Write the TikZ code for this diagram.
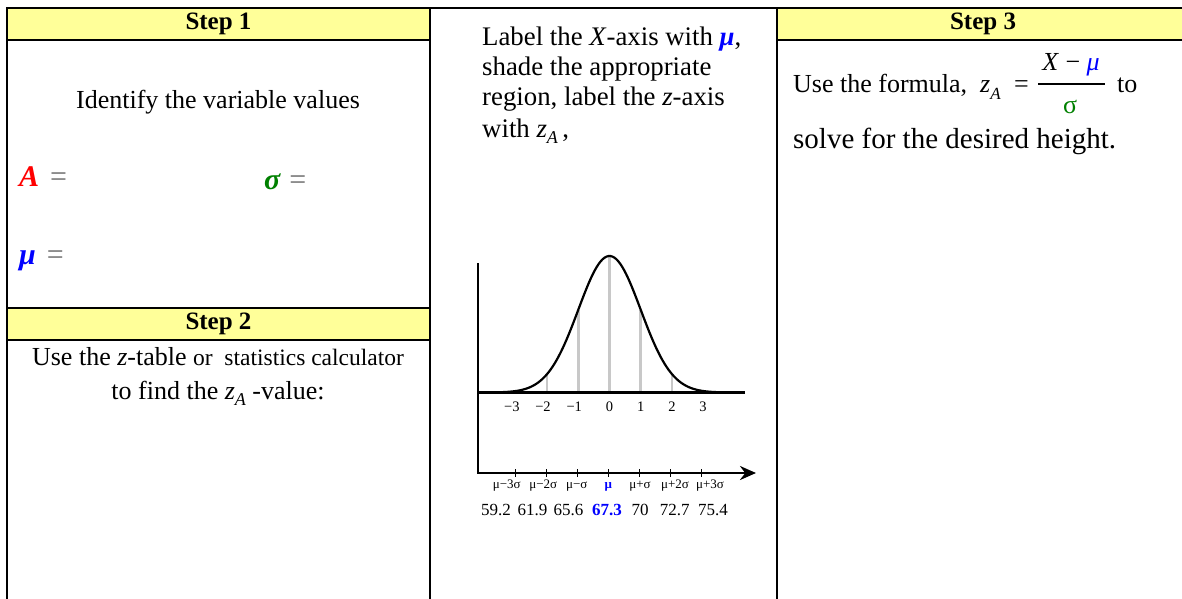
\documentclass[tikz,border=0pt]{standalone}
\usepackage{fontspec}
\setmainfont{Liberation Serif}
\usetikzlibrary{arrows.meta}
\definecolor{hdryellow}{HTML}{FFFF99}
\definecolor{eqgray}{HTML}{6E6E6E}
\definecolor{sgreen}{HTML}{008000}
\definecolor{curvegray}{HTML}{C8C8C8}
\newcommand{\myfs}[1]{\fontsize{#1}{#1}\selectfont}
\begin{document}
\begin{tikzpicture}[x=1pt,y=-1pt,
  frame/.style={line width=2pt},
  hdr/.style={draw, line width=2pt, fill=hdryellow, minimum height=32pt, inner sep=0pt, font=\myfs{25}\bfseries},
  txt/.style={inner sep=0pt, font=\myfs{26}},
  var/.style={inner sep=0pt, font=\myfs{30}},
  zlab/.style={inner sep=0pt, anchor=base, font=\myfs{14.5}},
  mlab/.style={inner sep=0pt, anchor=base, font=\myfs{13}},
  nlab/.style={inner sep=0pt, anchor=base, font=\myfs{17}},
  axis/.style={line width=2.5pt},
  tick/.style={line width=1pt}]
\clip (0,0) rectangle (1182,598);
% table frame
\draw[frame] (7,8) -- (7,602);
\draw[frame] (430,8) -- (430,602);
\draw[frame] (777,8) -- (777,602);
\draw[frame] (7,8) -- (1192,8);
% headers
\node[hdr, minimum width=423pt] (h1) at (218.5,24) {Step 1};
\node[hdr, minimum width=423pt] (h2) at (218.5,324) {Step 2};
\node[hdr, minimum width=412pt] (h3) at (983,24) {Step 3};
% step 1
\node[txt, anchor=base] (s1t) at (218,108) {Identify the variable values};
\node[var, anchor=base west] (varA) at (19,186) {{\color{red}\bfseries\itshape A}\hspace{11pt}{\color{eqgray}=}};
\node[var, anchor=base west] (varS) at (264,189) {{\color{sgreen}\bfseries\itshape σ}\hspace{9pt}{\color{eqgray}=}};
\node[var, anchor=base west] (varM) at (19,264) {{\color{blue}\bfseries\itshape μ}\hspace{11pt}{\color{eqgray}=}};
% step 2
\node[txt, anchor=base] (s2a) at (218,365) {Use the \textit{z}-table {\myfs{23.5}or\ \ statistics calculator}};
\node[txt, anchor=base] (s2b) at (218,399) {to find the \textit{z}\raisebox{-6pt}{\myfs{18}\itshape A} -value:};
% column 2 text
\node[txt, anchor=base west, font=\myfs{26.8}] (c2a) at (482,45) {Label the \textit{X}-axis with {\color{blue}\bfseries\itshape μ},};
\node[txt, anchor=base west, font=\myfs{26.8}] (c2b) at (482,75) {shade the appropriate};
\node[txt, anchor=base west, font=\myfs{26.8}] (c2c) at (482,105) {region, label the \textit{z}-axis};
\node[txt, anchor=base west, font=\myfs{26.8}] (c2d) at (482,137) {with \textit{z}\raisebox{-6pt}{\myfs{18}\itshape A}\,,};
% graph
\coordinate (yaxT) at (478,263);
\coordinate (yaxB) at (478,474);
\coordinate (zaxL) at (478,392.5);
\coordinate (zaxR) at (745,392.5);
\coordinate (xaxL) at (478,473);
\coordinate (xaxR) at (756,473);
\foreach \z in {-3,...,3}
  \draw[curvegray, line width=2.5pt] ({609.5+31.2*\z},392.5) -- ({609.5+31.2*\z},{392.5-136.5*exp(-0.5*\z*\z)});
\draw[line width=2.2pt] plot[domain=-3.7:3.7, samples=120, smooth] ({609.5+31.2*\x},{392.5-136.5*exp(-0.5*\x*\x)});
\draw[axis] (yaxT) -- (yaxB);
\draw[axis] (zaxL) -- (zaxR);
\draw[axis, -{Stealth[length=16pt,width=14pt]}] (xaxL) -- (xaxR);
\foreach \z in {-3,...,3}
  \draw[tick] ({608.3+31*\z},469) -- ({608.3+31*\z},477);
\foreach \z/\t in {-3/3,-2/2,-1/1}
  \node[zlab] (zn\t) at ({609.5+31.2*\z},411.5) {\llap{−}\t};
\foreach \z in {0,1,2,3}
  \node[zlab] (zp\z) at ({609.5+31.2*\z},411.5) {\z};
\node[mlab] (m1) at (506.7,488) {μ−3σ};
\node[mlab] (m2) at (543.3,488) {μ−2σ};
\node[mlab] (m3) at (576.7,488) {μ−σ};
\node[mlab, font=\myfs{13}\bfseries, text=blue] (m4) at (608.3,488) {μ};
\node[mlab] (m5) at (640,488) {μ+σ};
\node[mlab] (m6) at (675,488) {μ+2σ};
\node[mlab] (m7) at (710,488) {μ+3σ};
\node[nlab] (n1) at (496,515) {59.2};
\node[nlab] (n2) at (532.5,515) {61.9};
\node[nlab] (n3) at (568.5,515) {65.6};
\node[nlab, font=\myfs{17}\bfseries, text=blue] (n4) at (607,515) {67.3};
\node[nlab] (n5) at (640,515) {70};
\node[nlab] (n6) at (674.7,515) {72.7};
\node[nlab] (n7) at (713,515) {75.4};
% step 3
\node[txt, anchor=base west] (s3a) at (793,92) {Use the formula,};
\node[txt, anchor=base west] (s3z) at (980,92) {\textit{z}\raisebox{-7pt}{\myfs{17}\itshape A}};
\node[txt, anchor=base west] (s3eq) at (1014,92) {=};
\node[txt, anchor=base] (s3num) at (1071,70) {\textit{X} − {\color{blue}\itshape μ}};
\node[txt, anchor=base] (s3den) at (1070,113) {\color{sgreen}σ};
\coordinate (barL) at (1038,84);
\coordinate (barR) at (1105,84);
\draw[line width=1.3pt] (barL) -- (barR);
\node[txt, anchor=base west] (s3to) at (1117,92) {to};
\node[txt, anchor=base west, font=\myfs{29}] (s3b) at (793,148) {solve for the desired height.};
\end{tikzpicture}
\end{document}
